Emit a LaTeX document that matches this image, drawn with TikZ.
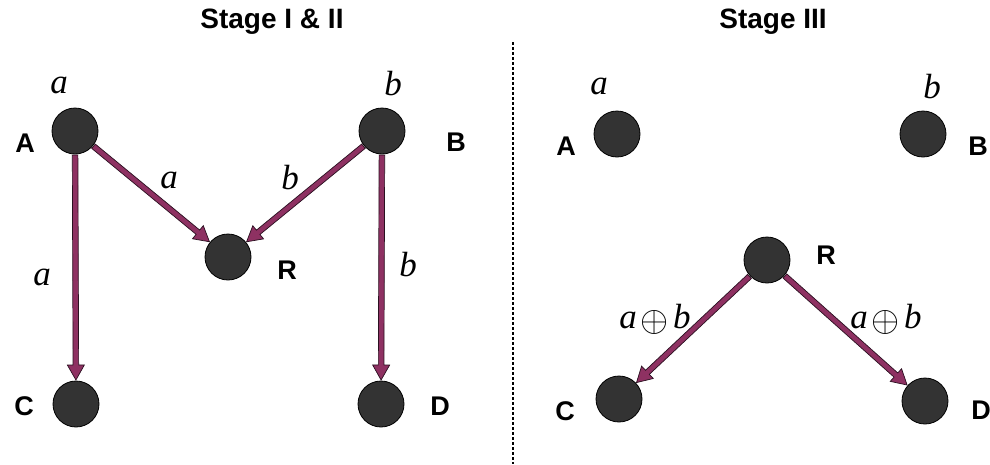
\documentclass[tikz,border=0pt]{standalone}
\usepackage{fontspec}
\setmainfont{Liberation Serif}
\setsansfont{Liberation Sans}
\usetikzlibrary{calc}
\definecolor{nodegray}{HTML}{333333}
\definecolor{edgepurple}{HTML}{8E3162}
\definecolor{edgedark}{HTML}{2A1020}
\tikzset{
  dot/.style={circle,fill=nodegray,draw=black,line width=0.8pt,minimum size=46pt,inner sep=0pt},
  nlabel/.style={font=\sffamily\bfseries\fontsize{27}{27}\selectfont,inner sep=0pt},
  title/.style={font=\sffamily\bfseries\fontsize{28}{28}\selectfont,inner sep=0pt},
  mlabel/.style={font=\itshape\fontsize{35}{35}\selectfont,inner sep=0pt},
  fatarrow/.style={fill=edgepurple,draw=edgedark,line width=0.7pt,line join=miter},
  divider/.style={line width=1.6pt,dash pattern=on 2.5pt off 2.5pt}
}
\newcommand\xorsym{\hspace{0.12em}\raisebox{-0.08em}{\scalebox{1.45}{$\oplus$}}\hspace{0.12em}}
\newcommand\fatarr[2]{%
  \coordinate (fs) at ($(#1)!24pt!(#2)$);
  \coordinate (fe) at ($(#2)!24pt!(#1)$);
  \coordinate (fh) at ($(fe)!15pt!(fs)$);
  \draw[fatarrow] ($(fs)!2.8pt!90:(fe)$) -- ($(fh)!2.8pt!90:(fe)$) -- ($(fh)!8.5pt!90:(fe)$) -- (fe)
    -- ($(fh)!8.5pt!-90:(fe)$) -- ($(fh)!2.8pt!-90:(fe)$) -- ($(fs)!2.8pt!-90:(fe)$) -- cycle;
}
\begin{document}
\begin{tikzpicture}[x=1pt,y=-1pt]
\useasboundingbox (0,0) rectangle (990,464);
% titles
\node[title] (t1) at (272,22) {Stage I \& II};
\node[title] (t2) at (773,22) {Stage III};
\coordinate (divtop) at (513,42);
\coordinate (divbot) at (513,464);
\draw[divider] (divtop) -- (divbot);
% Stage I & II
\node[dot] (A) at (75,131) {};
\node[dot] (B) at (382,131) {};
\node[dot] (R) at (228,257) {};
\node[dot] (C) at (76,404) {};
\node[dot] (D) at (381,404) {};
\node[nlabel] (lA) at (25,143) {A};
\node[nlabel] (lB) at (456,142) {B};
\node[nlabel] (lR) at (287,270) {R};
\node[nlabel] (lC) at (24,406) {C};
\node[nlabel] (lD) at (440,406) {D};
\node[mlabel] (ma) at (59,85) {a};
\node[mlabel] (mb) at (393,84) {b};
\fatarr{A}{C}
\fatarr{A}{R}
\fatarr{B}{R}
\fatarr{B}{D}
\node[mlabel] (eAR) at (169,180) {a};
\node[mlabel] (eBR) at (290,178) {b};
\node[mlabel] (eAC) at (42,277) {a};
\node[mlabel] (eBD) at (408,265) {b};
% Stage III
\node[dot] (A2) at (617,134) {};
\node[dot] (B2) at (923,134) {};
\node[dot] (R2) at (767,260) {};
\node[dot] (C2) at (619,399) {};
\node[dot] (D2) at (925,401) {};
\node[nlabel] (lA2) at (566,146) {A};
\node[nlabel] (lB2) at (978,146) {B};
\node[nlabel] (lR2) at (826,255) {R};
\node[nlabel] (lC2) at (565,411) {C};
\node[nlabel] (lD2) at (981,410) {D};
\node[mlabel] (ma2) at (599,86) {a};
\node[mlabel] (mb2) at (932,87) {b};
\fatarr{R2}{C2}
\fatarr{R2}{D2}
\node[mlabel] (eRC) at (655,319) {a\xorsym b};
\node[mlabel] (eRD) at (886,319) {a\xorsym b};
\end{tikzpicture}
\end{document}
